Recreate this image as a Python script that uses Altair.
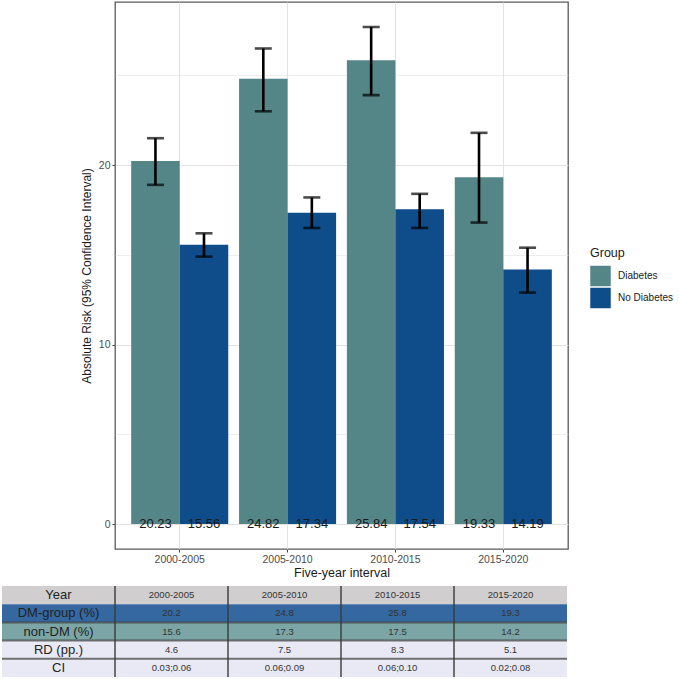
import altair as alt
import pandas as pd

# ---------------- data ----------------
years = ["2000-2005", "2005-2010", "2010-2015", "2015-2020"]
groups = ["Diabetes", "No Diabetes"]
risk_dm = [20.23, 24.82, 25.84, 19.33]
risk_no = [15.56, 17.34, 17.54, 14.19]
lo_dm = [18.9, 23.0, 23.9, 16.8]
hi_dm = [21.5, 26.5, 27.7, 21.8]
lo_no = [14.9, 16.5, 16.5, 12.9]
hi_no = [16.2, 18.2, 18.4, 15.4]

table_rows = ["Year", "DM-group (%)", "non-DM (%)", "RD (pp.)", "CI"]
dm_pct = ["20.2", "24.8", "25.8", "19.3"]
non_pct = ["15.6", "17.3", "17.5", "14.2"]
rd_pp = ["4.6", "7.5", "8.3", "5.1"]
ci_txt = ["0.03;0.06", "0.06;0.09", "0.06;0.10", "0.02;0.08"]

# ---------------- build tables ----------------
recs = []
for i, yr in enumerate(years):
    recs.append(dict(year=yr, group="Diabetes", risk=risk_dm[i], lo=lo_dm[i], hi=hi_dm[i]))
    recs.append(dict(year=yr, group="No Diabetes", risk=risk_no[i], lo=lo_no[i], hi=hi_no[i]))
df = pd.DataFrame(recs)

cols = ["label"] + years
row_values = {
    "Year": years,
    "DM-group (%)": dm_pct,
    "non-DM (%)": non_pct,
    "RD (pp.)": rd_pp,
    "CI": ci_txt,
}
trecs = []
for r in table_rows:
    trecs.append(dict(row=r, col="label", txt=r))
    for c, v in zip(years, row_values[r]):
        trecs.append(dict(row=r, col=c, txt=v))
tdf = pd.DataFrame(trecs)

# ---------------- styles ----------------
bar_colors = ["#548687", "#0F4C8A"]
row_colors = ["#D0CECE", "#3568A0", "#7BA6A5", "#E9E9F5", "#E9E9F5"]
FONT = "Liberation Sans"

# ---------------- main plot ----------------
xaxis = alt.Axis(
    title="Five-year interval", labelAngle=0, titlePadding=2, bandPosition=0.5, grid=True,
    labelFontSize=10.5, titleFontSize=12.5, labelPadding=2,
)
xscale = alt.Scale(domain=years, paddingInner=0.1, paddingOuter=0.15)
xoff = alt.XOffset("group:N", scale=alt.Scale(domain=groups, paddingInner=0, paddingOuter=0))
yscale = alt.Scale(domain=[-1.39, 29.09], nice=False, zero=False)
yaxis = alt.Axis(
    title="Absolute Risk (95% Confidence Interval)",
    values=[0, 5, 10, 15, 20, 25],
    labelExpr="datum.value % 10 == 0 ? datum.label : ''",
    gridWidth={"condition": {"test": "datum.value % 10 != 0", "value": 0.6}, "value": 1.1},
    tickOpacity={"condition": {"test": "datum.value % 10 != 0", "value": 0}, "value": 1},
    labelFontSize=10.5, titleFontSize=12, titlePadding=5, labelPadding=2,
)

bars = alt.Chart(df).mark_bar().encode(
    x=alt.X("year:N", scale=xscale, axis=xaxis),
    xOffset=xoff,
    y=alt.Y("risk:Q", scale=yscale, stack=None, axis=yaxis),
    color=alt.Color(
        "group:N",
        scale=alt.Scale(domain=groups, range=bar_colors),
        legend=alt.Legend(
            orient="none", legendX=475, legendY=245, title="Group",
            symbolType="square", symbolSize=420, symbolStrokeWidth=0,
            labelFontSize=10, titleFontSize=12.5, titleFontWeight="normal",
            rowPadding=1, labelOffset=7, titlePadding=6,
            labelFont=FONT, titleFont=FONT, labelColor="#1a1a1a", titleColor="#1a1a1a",
        ),
    ),
)

rule = alt.Chart(df).mark_rule(color="black", strokeWidth=2.6).encode(
    x=alt.X("year:N", scale=xscale, axis=xaxis), xOffset=xoff,
    y=alt.Y("lo:Q", scale=yscale, axis=yaxis), y2="hi:Q",
)
cap_lo = alt.Chart(df).mark_tick(color="black", size=17, thickness=2.6, orient="horizontal").encode(
    x=alt.X("year:N", scale=xscale, axis=xaxis), xOffset=xoff,
    y=alt.Y("lo:Q", scale=yscale, axis=yaxis),
)
cap_hi = alt.Chart(df).mark_tick(color="black", size=17, thickness=2.6, orient="horizontal").encode(
    x=alt.X("year:N", scale=xscale, axis=xaxis), xOffset=xoff,
    y=alt.Y("hi:Q", scale=yscale, axis=yaxis),
)
labels = alt.Chart(df).mark_text(fontSize=13, color="#1a1a1a", baseline="middle", font=FONT).encode(
    x=alt.X("year:N", scale=xscale, axis=xaxis), xOffset=xoff,
    y=alt.Y(datum=0, scale=yscale, axis=yaxis),
    text=alt.Text("risk:Q", format=".2f"),
)

plot = alt.layer(bars, rule, cap_lo, cap_hi, labels)

# ---------------- table ----------------
tx = alt.X("col:N", scale=alt.Scale(domain=cols, range=[-113, 452], paddingInner=0, paddingOuter=0), axis=None)
ty = alt.Y("row:N", scale=alt.Scale(domain=table_rows, range=[584, 675], paddingInner=0, paddingOuter=0), axis=None)

cells = alt.Chart(tdf).mark_rect().encode(
    x=tx, y=ty,
    color=alt.Color("row:N", scale=alt.Scale(domain=table_rows, range=row_colors), legend=None),
)
label_txt = alt.Chart(tdf).transform_filter("datum.col == 'label'").mark_text(
    fontSize=13, color="#222222", font=FONT, baseline="middle"
).encode(x=tx, y=ty, text="txt:N")
cell_txt = alt.Chart(tdf).transform_filter("datum.col != 'label'").mark_text(
    fontSize=9.5, color="#333333", font=FONT, baseline="middle"
).encode(x=tx, y=ty, text="txt:N")
vsep = alt.Chart(tdf).transform_filter("datum.col != 'label'").mark_tick(
    orient="vertical", size=18.4, thickness=2, color="#3a3a3a"
).encode(
    x=alt.X("col:N", scale=alt.Scale(domain=cols, range=[-113, 452], paddingInner=0, paddingOuter=0),
            axis=None, bandPosition=0),
    y=ty,
)
hsep = alt.Chart(tdf).transform_filter(
    "datum.row == 'non-DM (%)' || datum.row == 'RD (pp.)' || datum.row == 'CI'"
).mark_tick(orient="horizontal", size=113, thickness=2, color="#3a3a3a").encode(
    x=tx,
    y=alt.Y("row:N", scale=alt.Scale(domain=table_rows, range=[584, 675], paddingInner=0, paddingOuter=0),
            axis=None, bandPosition=0),
)

table = alt.layer(cells, hsep, vsep, label_txt, cell_txt)

chart = alt.layer(plot, table).resolve_scale(
    x="independent", y="independent", color="independent"
).resolve_axis(
    x="independent", y="independent"
).properties(
    width=453, height=547,
    padding={"left": 2, "top": 2, "right": 5, "bottom": 2},
).configure_view(
    stroke="#5a5a5a", strokeWidth=1.3
).configure_axis(
    domain=False, gridColor="#E2E2E2", tickColor="#444444", tickSize=3, tickWidth=1,
    labelColor="#4d4d4d", titleColor="#1a1a1a", labelFont=FONT, titleFont=FONT,
    titleFontWeight="normal",
)

chart.save("out.html", embed_options={"renderer": "svg", "actions": False})
